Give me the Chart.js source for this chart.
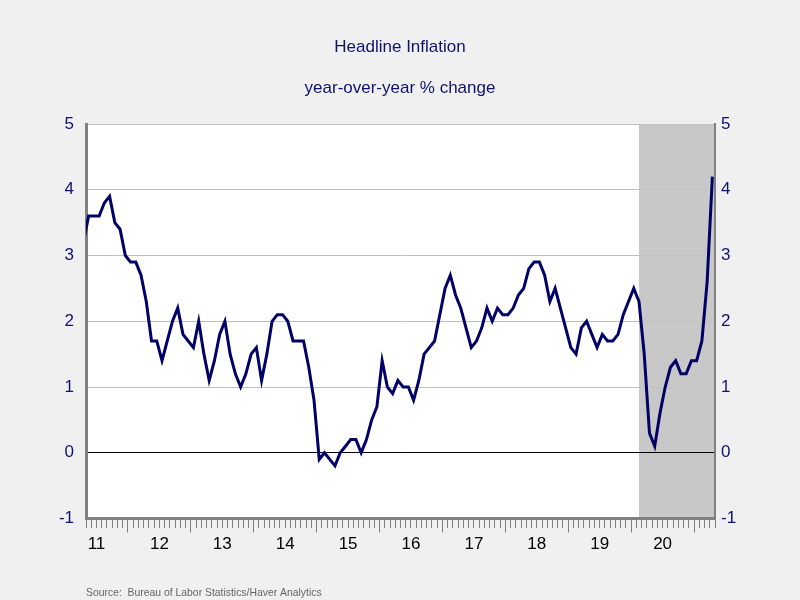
<!DOCTYPE html>
<html>
<head>
<meta charset="utf-8">
<script src="https://cdn.jsdelivr.net/npm/chart.js@4"></script>
<style>
  html, body { margin: 0; padding: 0; background: #f0f0f0; }
  #wrap { width: 800px; height: 600px; }
</style>
</head>
<body>
<div id="wrap"><canvas id="c" width="800" height="600"></canvas></div>
<script>
// Headline CPI inflation, year-over-year % change (monthly)
const firstMonth = 3; // April 2011 (months counted from Jan 2011 = 0)
const cpi2011 = [3.2, 3.6, 3.6, 3.6, 3.8, 3.9, 3.5, 3.4, 3.0];            // Apr-Dec
const cpi2012 = [2.9, 2.9, 2.7, 2.3, 1.7, 1.7, 1.4, 1.7, 2.0, 2.2, 1.8, 1.7];
const cpi2013 = [1.6, 2.0, 1.5, 1.1, 1.4, 1.8, 2.0, 1.5, 1.2, 1.0, 1.2, 1.5];
const cpi2014 = [1.6, 1.1, 1.5, 2.0, 2.1, 2.1, 2.0, 1.7, 1.7, 1.7, 1.3, 0.8];
const cpi2015 = [-0.1, 0.0, -0.1, -0.2, 0.0, 0.1, 0.2, 0.2, 0.0, 0.2, 0.5, 0.7];
const cpi2016 = [1.4, 1.0, 0.9, 1.1, 1.0, 1.0, 0.8, 1.1, 1.5, 1.6, 1.7, 2.1];
const cpi2017 = [2.5, 2.7, 2.4, 2.2, 1.9, 1.6, 1.7, 1.9, 2.2, 2.0, 2.2, 2.1];
const cpi2018 = [2.1, 2.2, 2.4, 2.5, 2.8, 2.9, 2.9, 2.7, 2.3, 2.5, 2.2, 1.9];
const cpi2019 = [1.6, 1.5, 1.9, 2.0, 1.8, 1.6, 1.8, 1.7, 1.7, 1.8, 2.1, 2.3];
const cpi2020 = [2.5, 2.3, 1.5, 0.3, 0.1, 0.6, 1.0, 1.3, 1.4, 1.2, 1.2, 1.4];
const cpi2021 = [1.4, 1.7, 2.6, 4.2];                                       // Jan-Apr

const yearLabels = ['11', '12', '13', '14', '15', '16', '17', '18', '19', '20'];
const yTicks = [-1, 0, 1, 2, 3, 4, 5];
const xRange = [4, 124];            // May 2011 .. end of Apr 2021 (in months from Jan 2011)
const recession = [109.5, 124];     // shaded from Feb 2020 onward

const values = [].concat(cpi2011, cpi2012, cpi2013, cpi2014, cpi2015, cpi2016,
                         cpi2017, cpi2018, cpi2019, cpi2020, cpi2021);
const points = values.map((v, i) => ({ x: firstMonth + i + 0.5, y: v }));

const NAVY = '#10106e';
const FONT = "'Liberation Sans', Arial, sans-serif";

const bgPlugin = {
  id: 'bg',
  beforeDraw(chart) {
    const { ctx, chartArea: a, scales } = chart;
    ctx.save();
    ctx.fillStyle = '#ffffff';
    ctx.fillRect(a.left, a.top, a.right - a.left, a.bottom - a.top);
    const x0 = scales.x.getPixelForValue(recession[0]);
    const x1 = scales.x.getPixelForValue(recession[1]);
    ctx.fillStyle = '#c8c8c8';
    ctx.fillRect(x0, a.top, x1 - x0, a.bottom - a.top);
    ctx.restore();
  }
};

const monthTicks = [];
for (let m = xRange[0]; m <= xRange[1]; m++) monthTicks.push(m);

new Chart(document.getElementById('c'), {
  type: 'line',
  data: {
    datasets: [{
      data: points,
      borderColor: '#000066',
      borderWidth: 3,
      pointRadius: 0,
      tension: 0,
      fill: false,
      clip: 0
    }]
  },
  options: {
    responsive: false,
    animation: false,
    devicePixelRatio: 1,
    layout: { padding: 0 },
    plugins: {
      legend: { display: false },
      tooltip: { enabled: false },
      title: {
        display: true,
        text: ['Headline Inflation', 'year-over-year % change'],
        color: NAVY,
        font: { family: FONT, size: 17, weight: 'normal', lineHeight: '41px' },
        padding: { top: 27, bottom: 15 }
      },
      subtitle: {
        display: true,
        position: 'bottom',
        align: 'start',
        fullSize: false,
        text: 'Source:  Bureau of Labor Statistics/Haver Analytics',
        color: '#666666',
        font: { family: FONT, size: 10.4, weight: 'normal', lineHeight: 1.2 },
        padding: { top: 18, bottom: 1 }
      }
    },
    scales: {
      x: {
        type: 'linear',
        position: 'bottom',
        min: xRange[0],
        max: xRange[1],
        afterBuildTicks(scale) { scale.ticks = monthTicks.map(v => ({ value: v })); },
        afterFit(scale) { scale.height = 50; },
        grid: {
          drawOnChartArea: false,
          drawTicks: true,
          tickLength: 14,
          tickColor: '#808080',
          tickWidth: 1,
          tickBorderDash: (ctx) => (ctx.tick && ctx.tick.value % 12 === 0) ? [] : [8, 100]
        },
        border: { display: true, color: '#808080', width: 3 },
        ticks: {
          autoSkip: false,
          maxRotation: 0,
          padding: 2,
          color: '#000000',
          font: { family: FONT, size: 17 },
          callback: (v) => (v % 12 === 6) ? (yearLabels[(v - 6) / 12] || '') : ''
        }
      },
      y: {
        position: 'left',
        min: -1,
        max: 5,
        afterBuildTicks(scale) { scale.ticks = yTicks.map(v => ({ value: v })); },
        afterFit(scale) { scale.width = 86; },
        grid: {
          drawTicks: false,
          color: (ctx) => (ctx.tick && ctx.tick.value === 0) ? '#000000' : '#c0c0c0',
          lineWidth: 1
        },
        border: { display: true, color: '#808080', width: 3 },
        ticks: {
          padding: 12,
          color: NAVY,
          font: { family: FONT, size: 17 },
          callback: (v) => String(v)
        }
      },
      y2: {
        position: 'right',
        min: -1,
        max: 5,
        afterBuildTicks(scale) { scale.ticks = yTicks.map(v => ({ value: v })); },
        afterFit(scale) { scale.width = 85; },
        grid: { drawOnChartArea: false, drawTicks: false },
        border: { display: true, color: '#808080', width: 2 },
        ticks: {
          padding: 6,
          color: NAVY,
          font: { family: FONT, size: 17 },
          callback: (v) => String(v)
        }
      }
    }
  },
  plugins: [bgPlugin]
});
</script>
</body>
</html>
